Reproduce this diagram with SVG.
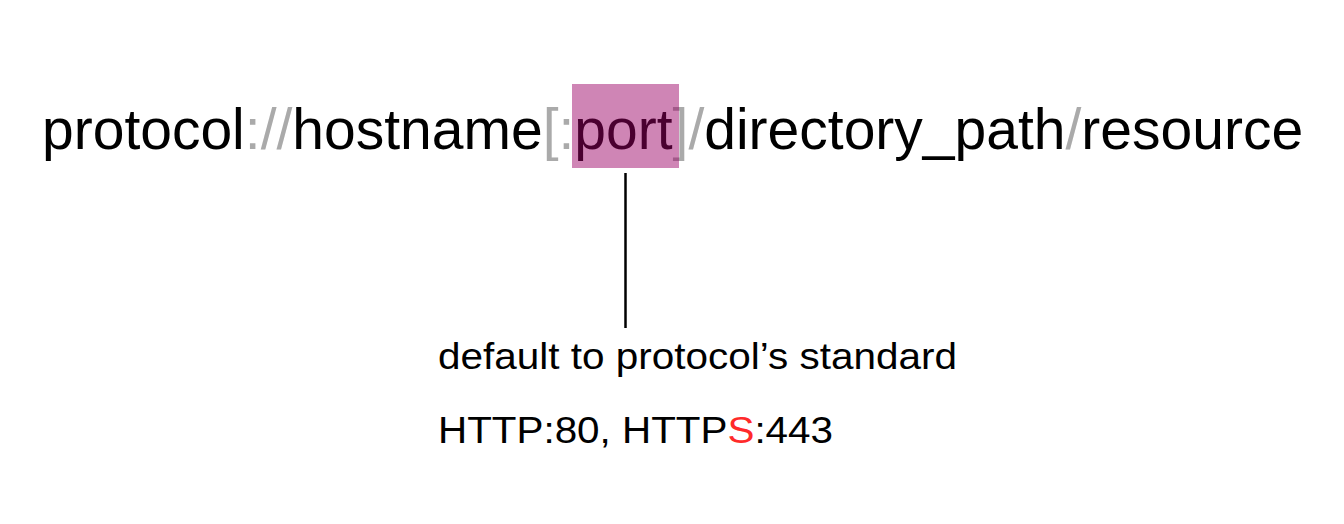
<svg xmlns="http://www.w3.org/2000/svg" width="1344" height="524" viewBox="0 0 1344 524">
<style>
.main{font-family:"Liberation Sans",Arial,sans-serif;font-size:57px;fill:#000}
.sep{fill:#aaaaaa}
.note{font-family:"Liberation Sans",Arial,sans-serif;font-size:37px;fill:#000}
.red{fill:#ff2a2a}
</style>
<rect width="1344" height="524" fill="#ffffff"/>
<g id="url">
<text class="main" x="42" y="149">protocol<tspan class="sep">://</tspan>hostname<tspan class="sep">[:</tspan><tspan>port</tspan><tspan class="sep">]</tspan><tspan class="sep">/</tspan>directory_path<tspan class="sep">/</tspan>resource</text>
</g>
<g id="port-highlight">
<rect x="572" y="84" width="107" height="84" fill="#9a0064" fill-opacity="0.48"/>
</g>
<g id="connectors">
<line x1="625.5" y1="173" x2="625.5" y2="328" stroke="#000" stroke-width="2.5"/>
</g>
<g id="note">
<text class="note" x="438" y="369" textLength="519" lengthAdjust="spacingAndGlyphs">default to protocol’s standard</text>
<text class="note" x="438" y="443" textLength="395" lengthAdjust="spacingAndGlyphs">HTTP:80, HTTP<tspan class="red">S</tspan>:443</text>
</g>
</svg>
